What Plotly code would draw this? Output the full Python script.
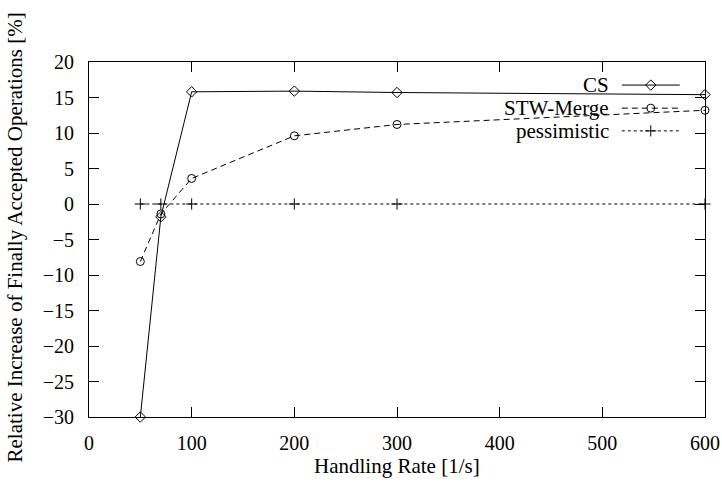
import plotly.graph_objects as go

rates = [50, 70, 100, 200, 300, 600]
cs = [-30.0, -1.8, 15.8, 15.9, 15.7, 15.4]
stw_merge = [-8.1, -1.4, 3.6, 9.6, 11.2, 13.2]
pessimistic = [0, 0, 0, 0, 0, 0]
names = ["CS", "STW-Merge", "pessimistic"]

FONT = "Liberation Serif"
TSIZE = 21
fig = go.Figure()
fig.add_trace(go.Scatter(x=rates, y=cs, mode="lines+markers", name=names[0],
                         line=dict(color="black", width=1),
                         marker=dict(symbol="diamond-open", size=8, color="black", line=dict(width=1)),
                         cliponaxis=False))
fig.add_trace(go.Scatter(x=rates, y=stw_merge, mode="lines+markers", name=names[1],
                         line=dict(color="black", width=1, dash="6px,4px"),
                         marker=dict(symbol="circle-open", size=8, color="black", line=dict(width=1)),
                         cliponaxis=False))
fig.add_trace(go.Scatter(x=rates, y=pessimistic, mode="lines+markers", name=names[2],
                         line=dict(color="black", width=1, dash="3px,3px"),
                         marker=dict(symbol="cross-thin-open", size=8, color="black", line=dict(width=1)),
                         cliponaxis=False))

# custom gnuplot-style legend
leg_y = [0.935, 0.87, 0.806]
syms = ["diamond-open", "circle-open", "cross-thin-open"]
dashes = ["solid", "6px,4px", "3px,3px"]
for nm, ly, sy, ds in zip(names, leg_y, syms, dashes):
    fig.add_annotation(x=0.847, y=ly, xref="paper", yref="paper", text=nm, showarrow=False,
                       xanchor="right", yanchor="middle",
                       font=dict(family=FONT, size=TSIZE, color="black"))
    fig.add_shape(type="line", xref="paper", yref="paper", x0=0.865, x1=0.959, y0=ly, y1=ly,
                  line=dict(color="black", width=1, dash=ds))
    fig.add_trace(go.Scatter(x=[0.912], y=[ly], xaxis="x2", yaxis="y2", mode="markers", showlegend=False,
                             marker=dict(symbol=sy, size=8, color="black", line=dict(width=1)),
                             hoverinfo="skip", cliponaxis=False))

# axis titles as annotations (fixed positions like the reference)
fig.add_annotation(x=0.5, y=-0.0, xref="paper", yref="paper", yshift=-49, text="Handling Rate [1/s]",
                   showarrow=False, xanchor="center", yanchor="middle",
                   font=dict(family=FONT, size=TSIZE, color="black"))
fig.add_annotation(x=0, y=0.5, xref="paper", yref="paper", xshift=-75, yshift=2,
                   text="Relative Increase of Finally Accepted Operations [%]", textangle=-90,
                   showarrow=False, xanchor="center", yanchor="middle",
                   font=dict(family=FONT, size=TSIZE, color="black"))

axis_common = dict(showgrid=False, zeroline=False, showline=True, linecolor="black", linewidth=1,
                   mirror="ticks", ticks="inside", ticklen=10, tickcolor="black", automargin=False,
                   tickfont=dict(family=FONT, size=20, color="black"))
fig.update_layout(
    width=722, height=485, plot_bgcolor="white", paper_bgcolor="white",
    margin=dict(l=89, r=17, t=62, b=68), showlegend=False,
    xaxis=dict(range=[0, 600], tickvals=[0, 100, 200, 300, 400, 500, 600], ticklabelstandoff=8,
               **axis_common),
    yaxis=dict(range=[-30, 20], tickvals=list(range(-30, 21, 5)), ticklabelstandoff=10,
               **axis_common),
    xaxis2=dict(range=[0, 1], overlaying="x", visible=False, anchor="y2"),
    yaxis2=dict(range=[0, 1], overlaying="y", visible=False, anchor="x2"),
)
fig.write_html("out.html")
